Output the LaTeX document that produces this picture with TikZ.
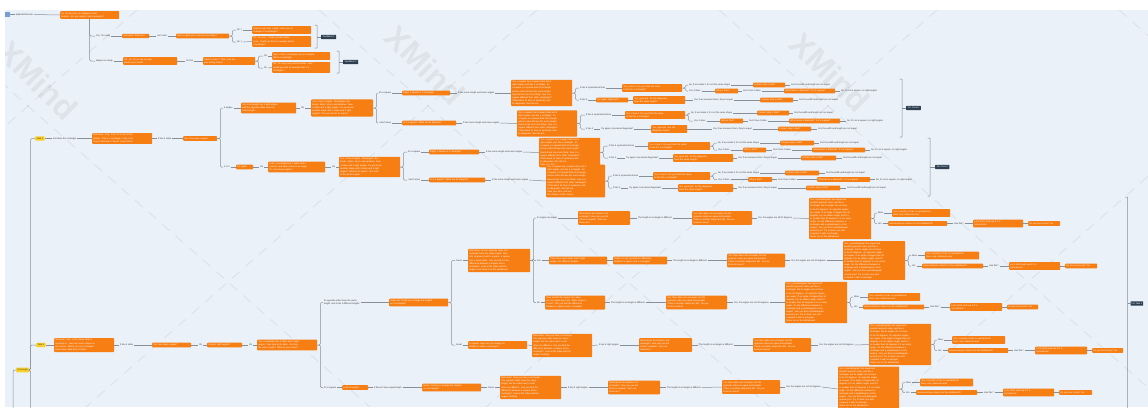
\documentclass[tikz,border=0pt]{standalone}
\usepackage{fontspec}
\setmainfont{Liberation Sans}
\definecolor{bgc}{RGB}{234,241,248}
\definecolor{orn}{RGB}{247,126,18}
\definecolor{drk}{RGB}{44,62,80}
\definecolor{ylw}{RGB}{250,208,40}
\definecolor{lnc}{RGB}{135,143,153}
\definecolor{txc}{RGB}{60,60,60}
\definecolor{rootc}{RGB}{120,158,215}
\newcommand\tf{\fontsize{2.25}{3.1}\selectfont}
\tikzset{
  ob/.style={fill=orn,text=white,font=\tf,align=left,anchor=west,inner xsep=1.2pt,inner ysep=1.3pt,rounded corners=0.8pt},
  lb/.style={text=txc,font=\tf,anchor=west,inner xsep=0.8pt,inner ysep=0.8pt},
  dk/.style={fill=drk,text=white,font=\tf,anchor=west,inner xsep=1.6pt,inner ysep=1.4pt,rounded corners=0.5pt},
  yl/.style={fill=ylw,text=txc,font=\tf,anchor=west,inner xsep=1.5pt,inner ysep=1.4pt,rounded corners=0.8pt},
  cn/.style={draw=lnc,line width=0.5pt,rounded corners=1.2pt},
  wmtext/.style={text=gray,opacity=0.12,font=\fontsize{32}{32}\selectfont\bfseries,rotate=-45},
  wmline/.style={draw=gray,opacity=0.15,line width=0.8pt,dash pattern=on 10pt off 8pt},
}
% orange topic: name, left x, right x, centre y, text
\newcommand\ob[5]{\pgfmathsetmacro\obw{#3-#2-2.4}\node[ob,text width=\obw pt] (#1) at (#2,#4) {#5};}
% floating label: name, left x, centre y, text
\newcommand\lb[4]{\node[lb] (#1) at (#2,#3) {#4};}
% fork from a parent to one child
\newcommand\fk[2]{\draw[cn] (#1.east) -- ++(3,0) |- (#2.west);}
% straight connectors along a row of topics
\newcommand\chain[1]{\gdef\chprev{}\foreach \nd in {#1}{\ifx\chprev\empty\else\draw[cn] (\chprev.east) -- (\nd.west);\fi\xdef\chprev{\nd}}}
% summary bracket: name, x, top y, bottom y, middle y
\newcommand\brk[5]{\coordinate (#1t) at (#2-2.5,#3);\coordinate (#1m) at (#2,#5);
  \draw[cn,rounded corners=0.6pt] (#1t) -- ++(2.5,0) -- ++(0,#4-#3) -- ++(-2.5,0);}

% recurring explanations
\newcommand\txSq{Yes, a square has 4 equal sides and 4\\right angles, just like a rectangle. So\\a square is a special kind of rectangle,\\whose sides all have the same length.\\Now tell me one more thing: how is a\\square different from other rectangles?\\Think about its lines of symmetry and\\its diagonals, then tell me.}
\newcommand\txPa{Yes, a parallelogram has equal and\\parallel opposite sides, just like a\\rectangle, but its angles do not have\\to be 90 degrees. Its opposite angles\\are equal. If an angle is bigger than 90\\degrees it is an obtuse angle, and if it\\is smaller than 90 degrees it is an acute\\angle. So the difference between a\\rectangle and a parallelogram is the\\angles. Can you find a parallelogram\\around you? Try to draw one and\\compare it with a rectangle.}
\newcommand\txFe{What about the features of a\\rectangle? How can you tell\\it from a square? Can you\\show me?}
\newcommand\txOp{Yes, their sides are not equal, but the\\opposite sides are equal and parallel.\\There is another shape like this. Do you\\know its name?}
\newcommand\txSy{Yes, correctly! It has no symmetrical\\lines, only rotational ones.}
\newcommand\txFo{Let's fold it and see if it is\\symmetrical.}
\newcommand\txFour{Yes, it has 4. Do you think the same\\is true for a rectangle?}
\newcommand\txDi{Yes, good job. Do the diagonals\\have the same length?}
\newcommand\txRe{Well done! Now you have a rectangle.\\The opposite sides have the same\\length, but the sides next to each\\other are different. Can you find the\\difference between a square and a\\rectangle? Look at the sides and the\\angles carefully.}

\begin{document}
\begin{tikzpicture}[x=1pt,y=-1pt]
\useasboundingbox (0,0) rectangle (1148,407);
\fill[white] (0,0) rectangle (1148,407);
\fill[bgc] (5,10) rectangle (1148,407);

% watermark
\begin{scope}
\clip (5,10) rectangle (1148,407);
\foreach \c in {-172,228,628,1028,1428}{
  \draw[wmline] (\c-309,10) -- (\c+142,407);
  \draw[wmline] (\c+309,10) -- (\c-142,407);
}
\node[wmtext] at (38,80) {XMind};
\node[wmtext] at (425,65) {XMind};
\node[wmtext] at (830,72) {XMind};
\end{scope}

% ---------- greeting ----------
\node[fill=rootc,minimum width=5pt,minimum height=5pt,inner sep=0pt,anchor=west] (rs) at (5,14.5) {};
\lb{root}{15}{14.5}{MyRobotTeacher}
\ob{A}{60}{119}{15}{Hi, I'm Gemma, an intelligent robot\\teacher. Are you ready to start geometry?}
\chain{rs,root,A}
\lb{yes}{95}{36}{Yes, I'm ready}
\ob{B}{122}{149}{36}{Awesome! Shall we?}
\lb{go}{156}{36}{Let's start}
\ob{C}{176}{229}{36}{Nice to meet you! How are you today?}
\lb{ha}{236}{30}{Ah :)}
\lb{hb}{236}{42}{Ah :(}
\ob{D1}{252}{311}{30}{Glad to hear that! Could I show you an\\example of a rectangle?}
\ob{D2}{252}{311}{41.5}{Oh, I'm sorry. I hope you feel better\\soon. Could you find an example that is\\a rectangle?}
\draw[cn] (A.south) |- (yes.west);
\chain{yes,B,go,C}
\fk{C}{ha}\fk{C}{hb}
\chain{ha,D1}\chain{hb,D2}
\brk{b1}{317}{25}{48}{37}
\node[dk] (F1) at (321,37) {Feedback 1};
\draw[cn] (b1m) -- (F1.west);

\lb{may}{95}{61}{Maybe not ready}
\ob{E}{123}{177}{61}{Oh, no! It's ok, tell me why,\\what's your mood?}
\lb{fine}{185}{61}{I'm fine}
\ob{F}{203}{255}{61}{Glad to hear it. Then, how are\\you feeling today?}
\lb{oka}{263}{56}{Ok}
\lb{noa}{263}{68}{No}
\ob{G1}{272}{330}{56}{Nice, I think I could give you an example\\that is a rectangle.}
\ob{G2}{272}{330}{67.5}{Oh, I'm sorry, but you'll be better. How\\would you find an example that is a\\rectangle?}
\draw[cn] (A.south) |- (may.west);
\chain{may,E,fine,F}
\fk{F}{oka}\fk{F}{noa}
\chain{oka,G1}\chain{noa,G2}
\brk{b2}{339}{51}{73}{62}
\node[dk] (F2) at (343,62) {Feedback 2};
\draw[cn] (b2m) -- (F2.west);

% ---------- lesson root ----------
\node[yl] (RT) at (16,370) {Rectangle};
\node[yl] (T1) at (35,138.5) {Task 1};
\node[yl] (T2) at (36,345) {Task 2};
\coordinate (below) at (13,412);
\draw[cn] (below) |- (RT.west);
\draw[cn] (RT.east) -- ++(1,0) |- (T1.west);
\draw[cn] (RT.east) -- ++(1,0) |- (T2.west);
\draw[cn] (RT.east) -- ++(1,0) -- ++(0,45);

% ---------- task 1 ----------
\lb{intro}{52}{138.5}{Introduce the rectangle}
\ob{H}{92}{152}{138.5}{Well done, Lucy. First, let's look at this\\picture. This is a rectangle. Look, how\\many sides does it have? Count them!}
\lb{sd4}{157}{138.5}{It has 4 sides}
\ob{I}{183}{217}{138.5}{Yes, how many angles?}
\chain{T1,intro,H,sd4,I}
\lb{a4}{223}{108}{4 angles}
\lb{a3}{223}{167}{3 or 5}
\fk{I}{a4}\fk{I}{a3}

\ob{J}{241}{296}{108}{Yes, a rectangle has 4 right angles,\\and the opposite sides have the\\same length.}
\lb{okb}{300}{108}{Ok}
\ob{K}{311}{373}{108}{Yes, it has 4 angles. Rectangles, like\\books, tables, doors and windows, have\\4 sides and 4 right angles. Do you know\\another shape with 4 sides and 4 right\\angles? Can you tell me its name?}
\chain{a4,J,okb,K}
\lb{sq1}{378}{93}{It's a square}
\lb{dk1}{378}{123}{I don't know}
\fk{K}{sq1}\fk{K}{dk1}

\ob{L}{402}{450}{93}{Right, a square is a rectangle!}
\lb{sl1}{457}{93}{It has same length and same angles}
\ob{M}{511}{572}{93}{\txSq}
\chain{sq1,L,sl1,M}
\lb{m4}{579}{88}{It has 4 symmetrical lines}
\lb{m2}{579}{100}{It has 2}
\fk{M}{m4}\fk{M}{m2}
\ob{N}{622}{682}{88}{\txFour}
\chain{m4,N}
\lb{n1}{688}{85}{No, if we rotate it, it's not the same shape}
\lb{n2}{688}{91}{Yes, it does}
\fk{N}{n1}\fk{N}{n2}
\ob{N1a}{753}{785}{85}{Correct, why is that?}
\lb{N1b}{790}{85}{Cuz the width and length are not equal}
\chain{n1,N1a,N1b}
\ob{N2a}{715}{738}{91}{Why is that?}
\lb{N2b}{742}{91}{Cuz it has 4 sides}
\ob{N2c}{784}{835}{91}{What about a diamond? Is it a square?}
\lb{N2d}{840}{91}{No, it's not a square, no right angles}
\chain{n2,N2a,N2b,N2c,N2d}
\ob{P1}{596}{628}{100}{Try again, diagonals?}
\ob{P2}{633}{685}{100}{\txDi}
\lb{P3}{693}{100}{Yes, if we measure them, they're equal}
\ob{P4}{760}{793}{100}{Correct, why is that?}
\lb{P5}{798}{100}{Cuz the width and length are not equal}
\chain{m2,P1,P2,P3,P4,P5}

\ob{Q}{402}{456}{123}{Is it a square? What are its features?}
\lb{sl2}{462}{123}{It has same length and same angles}
\ob{R1}{517}{577}{123.5}{\txSq}
\chain{dk1,Q,sl2,R1}
\lb{r4}{585}{115}{It has 4 symmetrical lines}
\lb{r2}{585}{129}{It has 2}
\fk{R1}{r4}\fk{R1}{r2}
\ob{S1}{625}{685}{115}{\txFour}
\chain{r4,S1}
\lb{S1a}{690}{113}{No, if we rotate it, it's not the same shape}
\lb{S1b}{693}{121}{Yes, it does}
\fk{S1}{S1a}\fk{S1}{S1b}
\ob{S1c}{757}{789}{113}{Correct, why is that?}
\lb{S1d}{793}{113}{Cuz the width and length are not equal}
\chain{S1a,S1c,S1d}
\ob{S1e}{720}{743}{121}{Why is that?}
\lb{S1f}{748}{121}{Cuz it has 4 sides}
\ob{S1g}{789}{840}{121}{What about a diamond? Is it a square?}
\lb{S1h}{846}{121}{No, it's not a square, no right angles}
\chain{S1b,S1e,S1f,S1g,S1h}
\lb{S2a}{600}{129}{Try again, how about diagonals?}
\ob{S2}{651}{687}{129}{Yes, good job. Are the\\diagonals equal?}
\lb{S2b}{712}{129}{Yes, if we measure them, they're equal}
\ob{S2c}{778}{811}{129}{Correct, why is that?}
\lb{S2d}{817}{129}{Cuz the width and length are not equal}
\chain{r2,S2a,S2,S2b,S2c,S2d}
\brk{b3}{902}{79}{137}{108}
\node[dk] (FC1) at (906,108) {For Correct};
\draw[cn] (b3m) -- (FC1.west);

\ob{TA}{236}{253}{167}{Try again}
\lb{okc}{259}{167}{Ok}
\ob{U}{268}{325}{167}{Look, a rectangle has 4 sides and 4\\corners, and each corner is an angle.\\So, how many angles?}
\lb{okd}{331}{167}{Ok}
\ob{V}{339}{400}{167}{Yes, it has 4 angles. Rectangles, like\\books, tables, doors and windows, have\\4 sides and 4 right angles. Do you know\\another shape with 4 sides and 4 right\\angles? What is its name? Let's look\\at the picture again.}
\chain{a3,TA,okc,U,okd,V}
\lb{sq2}{407}{152}{It's a square}
\lb{dk2}{407}{180}{I don't know}
\fk{V}{sq2}\fk{V}{dk2}

\ob{W}{429}{479}{152}{Right, a square is a rectangle!}
\lb{sl3}{485}{152}{It has same length and same angles}
\ob{X}{539}{600}{152.5}{\txSq\\Take your time.}
\chain{sq2,W,sl3,X}
\lb{x4}{608}{146}{It has 4 symmetrical lines}
\lb{x2}{608}{158}{It has 2}
\fk{X}{x4}\fk{X}{x2}
\ob{X1}{648}{710}{146}{\txFour}
\chain{x4,X1}
\lb{X1a}{717}{143}{No, if we rotate it, it's not the same shape}
\lb{X1b}{717}{150}{Yes, it does}
\fk{X1}{X1a}\fk{X1}{X1b}
\ob{X1c}{780}{814}{143}{Correct, why is that?}
\lb{X1d}{819}{143}{Cuz the width and length are not equal}
\chain{X1a,X1c,X1d}
\ob{X1e}{743}{766}{150}{Why is that?}
\lb{X1f}{772}{150}{Cuz it has 4 sides}
\ob{X1g}{812}{865}{150}{What about a diamond? Is it a square?}
\lb{X1h}{870}{150}{No, it's not a square, no right angles}
\chain{X1b,X1e,X1f,X1g,X1h}
\lb{X2a}{625}{158}{Try again, how about diagonals?}
\ob{X2}{673}{733}{158}{\txDi}
\lb{X2b}{737}{158}{Yes, if we measure them, they're equal}
\ob{X2c}{801}{836}{158}{Correct, why is that?}
\lb{X2d}{842}{158}{Cuz the width and length are not equal}
\chain{x2,X2a,X2,X2b,X2c,X2d}

\ob{Y}{429}{485}{180}{Is it a square? What are its features?}
\lb{sl4}{491}{180}{It has same length and same angles}
\ob{Z}{546}{605}{181}{\txSq\\Take your time, and use\\the shapes on the screen.}
\chain{dk2,Y,sl4,Z}
\lb{z4}{612}{176}{It has 4 symmetrical lines}
\lb{z2}{612}{188}{It has 2}
\fk{Z}{z4}\fk{Z}{z2}
\ob{Z1}{653}{710}{176}{\txFour}
\chain{z4,Z1}
\lb{Z1a}{717}{173}{No, if we rotate it, it's not the same shape}
\lb{Z1b}{717}{179.5}{Yes, it does}
\fk{Z1}{Z1a}\fk{Z1}{Z1b}
\ob{Z1c}{785}{819}{173}{Correct, why is that?}
\lb{Z1d}{825}{173}{Cuz the width and length are not equal}
\chain{Z1a,Z1c,Z1d}
\ob{Z1e}{748}{772}{179.5}{Why is that?}
\lb{Z1f}{777}{179.5}{Cuz it has 4 sides}
\ob{Z1g}{817}{870}{179.5}{What about a diamond? Is it a square?}
\lb{Z1h}{875}{179.5}{No, it's not a square, no right angles}
\chain{Z1b,Z1e,Z1f,Z1g,Z1h}
\lb{Z2a}{628}{188}{Try again, how about diagonals?}
\ob{Z2}{678}{733}{188}{\txDi}
\lb{Z2b}{737}{188}{Yes, if we measure them, they're equal}
\ob{Z2c}{806}{840}{188}{Correct, why is that?}
\lb{Z2d}{846}{188}{Cuz the width and length are not equal}
\chain{z2,Z2a,Z2,Z2b,Z2c,Z2d}
\brk{b4}{930}{138}{196}{167}
\node[dk] (FC2) at (935,167) {No Correct};
\draw[cn] (b4m) -- (FC2.west);

% ---------- task 2 ----------
\ob{T2a}{54}{114}{345}{Good job, Lucy. Let's review what a\\rectangle is. Here are some shapes on\\the screen. Which one is a rectangle?\\How many sides does it have?}
\lb{T2b}{119}{345}{It has 4 sides}
\ob{T2c}{152}{191}{345}{Yes, how many angles?}
\lb{T2d}{198}{345}{Ok}
\ob{T2e}{207}{242}{345}{Correct, right angles?}
\lb{T2f}{248}{345}{Ok}
\ob{T2g}{257}{317}{345}{Yes, a rectangle has 4 sides and 4 right\\angles. Now look at its sides. Are they\\the same length? What do you notice?}
\chain{T2,T2a,T2b,T2c,T2d,T2e,T2f,T2g}
\node[lb,align=left] (T2h) at (323,302.5) {Its opposite sides have the same\\length, and it has 2 different lengths};
\lb{T2i}{323}{387.5}{It's a square}
\fk{T2g}{T2h}\fk{T2g}{T2i}
\ob{G0}{389}{448}{302.5}{Great job! Could you arrange the lengths\\on a rectangle?}
\chain{T2h,G0}
\lb{gd}{455}{260.5}{Good}
\lb{gt}{455}{345}{Great}
\fk{G0}{gd}\fk{G0}{gt}
\ob{GD}{468}{530}{260.5}{Well done! So the opposite sides of a\\rectangle have the same length. Now\\let's compare it with a square: a square\\has 4 equal sides. Can you tell me the\\difference between a square and a\\rectangle? Look at the sides and the\\angles, and show it on the whiteboard.}
\chain{gd,GD}
\lb{g1}{536}{218}{Its angles are equal}
\lb{g2}{536}{260.5}{Yes}
\lb{g3}{536}{302.5}{No}
\fk{GD}{g1}\fk{GD}{g2}\fk{GD}{g3}

% row: angles equal
\ob{g1a}{578}{630}{218}{\txFe}
\lb{g1b}{637}{218}{The length in rectangle is different}
\ob{g1c}{692}{752}{218}{\txOp}
\lb{g1d}{757}{218}{Yes, the angles are all 90 degrees}
\ob{g1e}{809}{871}{218.5}{\txPa\\Show me on the whiteboard.}
\chain{g1,g1a,g1b,g1c,g1d,g1e}
\lb{g1f}{877}{213}{Wow}
\lb{g1g}{877}{223.5}{Um}
\fk{g1e}{g1f}\fk{g1e}{g1g}
\ob{g1h}{892}{950}{213}{\txSy}
\ob{g1i}{888}{947}{223.5}{How would you show it on the whiteboard?}
\lb{g1j}{953}{223.5}{Like this?}
\ob{g1k}{973}{1023}{223.5}{\txFo}
\ob{g1l}{1028}{1060}{223.5}{Do you see it now? No}
\chain{g1f,g1h}\chain{g1g,g1i,g1j,g1k,g1l}

% row: yes
\ob{g2a}{549}{607}{260.5}{They have equal sides and 4 right\\angles, but different lengths.}
\ob{g2b}{613}{667}{260.5}{Great, so can you find the difference\\between a square and a rectangle?}
\lb{g2c}{672}{260.5}{The length in rectangle is different}
\ob{g2d}{727}{785}{260.5}{\txOp}
\lb{g2e}{790}{260.5}{Yes, the angles are not 90 degrees}
\ob{g2f}{843}{905}{260.5}{\txPa}
\chain{g2,g2a,g2b,g2c,g2d,g2e,g2f}
\lb{g2g}{911}{255.5}{Wow}
\lb{g2h}{911}{266}{Um}
\fk{g2f}{g2g}\fk{g2f}{g2h}
\ob{g2i}{925}{979}{255.5}{\txSy}
\ob{g2j}{922}{983}{266}{How would you show it on the whiteboard?}
\lb{g2k}{988}{266}{Like this?}
\ob{g2l}{1009}{1060}{266}{\txFo}
\ob{g2m}{1065}{1097}{266}{Do you see it now? No}
\chain{g2g,g2i}\chain{g2h,g2j,g2k,g2l,g2m}

% row: no
\ob{g3a}{545}{605}{302.5}{If we stretch the square, the sides\\are not equal any more. What shape is\\it now? Can you find the difference\\between a square and a rectangle?}
\lb{g3b}{610}{302.5}{The length in rectangle is different}
\ob{g3c}{666}{727}{302.5}{\txOp}
\lb{g3d}{733}{302.5}{Yes, the angles are not 90 degrees}
\ob{g3e}{785}{847}{302.5}{\txPa\\Show me on the whiteboard.}
\chain{g3,g3a,g3b,g3c,g3d,g3e}
\lb{g3f}{853}{297}{Wow}
\lb{g3g}{853}{307}{Um}
\fk{g3e}{g3f}\fk{g3e}{g3g}
\ob{g3h}{868}{920}{297}{\txSy}
\ob{g3i}{863}{924}{307}{How would you show it on the whiteboard?}
\lb{g3j}{929}{307}{Like this?}
\ob{g3k}{950}{1002}{307}{\txFo}
\ob{g3l}{1007}{1038}{307}{Do you see it now? No}
\chain{g3f,g3h}\chain{g3g,g3i,g3j,g3k,g3l}

% row: great
\ob{gt1}{468}{527}{345}{A square! How can you change its\\lengths to make a rectangle?}
\ob{gt2}{532}{592}{345.5}{\txRe}
\lb{gt3}{598}{345}{It has 4 right angles}
\ob{gt4}{639}{692}{345}{\txFe}
\lb{gt5}{698}{345}{The length in rectangle is different}
\ob{gt6}{753}{811}{345}{\txOp}
\lb{gt7}{818}{345}{Yes, the angles are not 90 degrees}
\ob{gt8}{869}{931}{344.5}{\txPa\\Show me on the whiteboard.}
\chain{gt,gt1,gt2,gt3,gt4,gt5,gt6,gt7,gt8}
\lb{gt9a}{937}{340}{Wow}
\lb{gt9b}{937}{350.5}{Um}
\fk{gt8}{gt9a}\fk{gt8}{gt9b}
\ob{gt9}{952}{1005}{340}{\txSy}
\ob{gt10}{948}{1008}{350.5}{How would you show it on the whiteboard?}
\lb{gt11}{1013}{350.5}{Like this?}
\ob{gt12}{1035}{1087}{350.5}{\txFo}
\ob{gt13}{1092}{1123}{350.5}{Do you see it now? No}
\chain{gt9a,gt9}\chain{gt9b,gt10,gt11,gt12,gt13}

% row: square answer
\ob{sq3}{342}{368}{387.5}{Look at lengths}
\lb{sq4}{373}{387.5}{It doesn't have equal length}
\ob{sq5}{422}{481}{387.5}{Great! Could you arrange the lengths\\on a rectangle?}
\lb{sq6}{487}{387.5}{Good}
\ob{sq7}{500}{561}{387.5}{\txRe}
\lb{sq8}{567}{387.5}{It has 4 right angles}
\ob{sq9}{608}{660}{387.5}{\txFe}
\lb{sq10}{666}{387.5}{The length in rectangle is different}
\ob{sq11}{722}{780}{387}{\txOp}
\lb{sq12}{785}{387}{Yes, the angles are not 90 degrees}
\ob{sq13}{838}{899}{389}{\txPa\\Show me on the whiteboard.\\Then tell me what you see.}
\chain{T2i,sq3,sq4,sq5,sq6,sq7,sq8,sq9,sq10,sq11,sq12,sq13}
\lb{sq13a}{905}{382.5}{Wow}
\lb{sq13b}{905}{392.5}{Um}
\fk{sq13}{sq13a}\fk{sq13}{sq13b}
\ob{sq14}{920}{973}{382.5}{\txSy}
\ob{sq15}{916}{977}{392.5}{How would you show it on the whiteboard?}
\lb{sq16}{983}{392.5}{Like this?}
\ob{sq17}{1003}{1054}{392.5}{\txFo}
\ob{sq18}{1059}{1092}{392.5}{Do you see it now? No}
\chain{sq13a,sq14}\chain{sq13b,sq15,sq16,sq17,sq18}

\brk{b5}{1127.5}{197}{420}{303.5}
\node[dk,inner xsep=1pt] (FT) at (1130.5,303.5) {For Task 1};
\draw[cn] (b5m) -- (FT.west);
\end{tikzpicture}
\end{document}
